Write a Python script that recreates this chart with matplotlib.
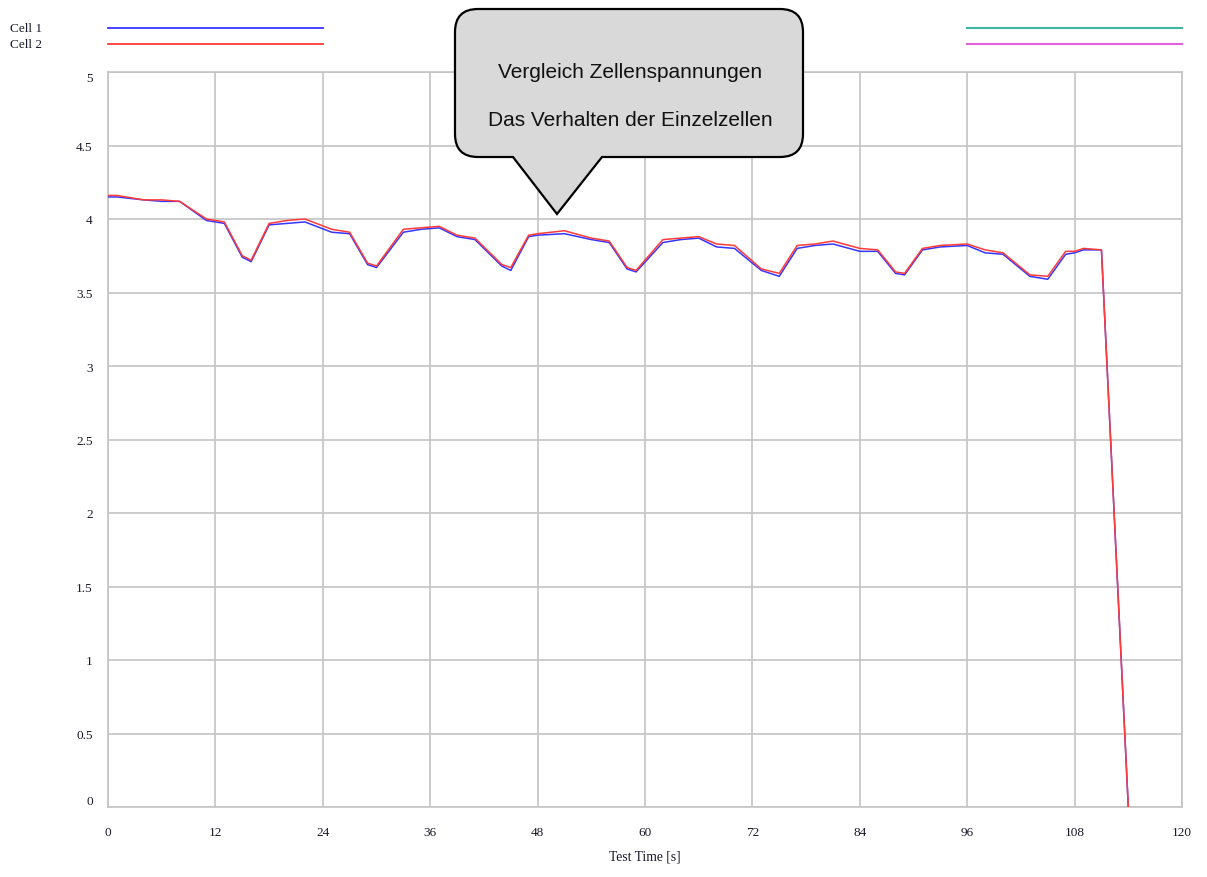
import numpy as np
import matplotlib.pyplot as plt
from matplotlib.path import Path
from matplotlib.patches import PathPatch
from matplotlib.lines import Line2D
from matplotlib.transforms import Affine2D

# data
time_s = [0, 1, 4, 6, 8, 11, 13, 15, 16, 18, 20, 22, 25, 27, 29, 30, 33, 35, 37, 39,
          41, 44, 45, 47, 48, 51, 54, 56, 58, 59, 62, 64, 66, 68, 70, 73, 75, 77, 79, 81,
          84, 86, 88, 89, 91, 93, 96, 98, 100, 103, 105, 107, 108, 109, 111, 114]
cell2 = [4.16, 4.16, 4.13, 4.13, 4.12, 4.00, 3.98, 3.75, 3.72, 3.97, 3.99, 4.00, 3.93, 3.91,
         3.70, 3.68, 3.93, 3.94, 3.95, 3.89, 3.87, 3.69, 3.67, 3.89, 3.90, 3.92, 3.87, 3.85,
         3.67, 3.65, 3.86, 3.87, 3.88, 3.83, 3.82, 3.66, 3.63, 3.82, 3.83, 3.85, 3.80, 3.79,
         3.64, 3.63, 3.80, 3.82, 3.83, 3.79, 3.77, 3.62, 3.61, 3.78, 3.78, 3.80, 3.79, 0.0]
cell1 = [4.15, 4.15, 4.13, 4.12, 4.12, 3.99, 3.97, 3.74, 3.71, 3.96, 3.97, 3.98, 3.91, 3.90,
         3.69, 3.67, 3.91, 3.93, 3.94, 3.88, 3.86, 3.68, 3.65, 3.88, 3.89, 3.90, 3.86, 3.84,
         3.66, 3.64, 3.84, 3.86, 3.87, 3.81, 3.80, 3.65, 3.61, 3.80, 3.82, 3.83, 3.78, 3.78,
         3.63, 3.62, 3.79, 3.81, 3.82, 3.77, 3.76, 3.61, 3.59, 3.76, 3.77, 3.79, 3.79, 0.0]
x_ticks = [0, 12, 24, 36, 48, 60, 72, 84, 96, 108, 120]
y_ticks = [0, 0.5, 1, 1.5, 2, 2.5, 3, 3.5, 4, 4.5, 5]
y_tick_labels = ['0', '0.5', '1', '1.5', '2', '2.5', '3', '3.5', '4', '4.5', '5']

W, H = 1207, 878
serif = 'Liberation Serif'
sans = 'Liberation Sans'
blue, red = '#3535ff', '#ff3a3a'
teal, magenta = '#3db89e', '#e060e0'
txt = '#1a1a2a'

fig = plt.figure(figsize=(W / 100, H / 100), dpi=100)
ax = fig.add_axes([108 / W, 70 / H, 1074 / W, 735 / H])

ax.plot(time_s, cell1, color=blue, lw=1.1, zorder=3)
ax.plot(time_s, cell2, color=red, lw=1.1, zorder=4)

ax.set_xlim(0, 120)
ax.set_ylim(0, 5)
ax.set_xticks(x_ticks)
ax.set_yticks(y_ticks)
ax.set_yticklabels(y_tick_labels)
ax.grid(True, color='#c4c4c4', lw=1.2)
ax.set_axisbelow(True)
for s in ax.spines.values():
    s.set_color('#c4c4c4')
    s.set_linewidth(1.2)
ax.tick_params(length=0, labelsize=9.5, labelfontfamily=serif, colors=txt)
ax.tick_params(axis='x', pad=14)
ax.tick_params(axis='y', pad=11)
ylabs = ax.get_yticklabels()
ylabs[0].set_va('bottom')
ylabs[-1].set_va('top')
ax.set_xlabel('Test Time [s]', fontsize=9.8, family=serif, labelpad=8, color=txt)

# legend rows at the top
px = Affine2D().scale(1 / 100, -1 / 100).translate(0, H / 100) + fig.dpi_scale_trans
for yy, lab, col in [(29, 'Cell 1', blue), (45, 'Cell 2', red)]:
    fig.text(10 / W, 1 - yy / H, lab, fontsize=9.5, family=serif, va='center', color=txt)
    fig.add_artist(Line2D([108, 323], [yy, yy], color=col, lw=1.3, transform=px))
for yy, col in [(29, teal), (45, magenta)]:
    fig.add_artist(Line2D([967, 1182], [yy, yy], color=col, lw=1.5, transform=px))

# speech bubble callout
r = 23
L, R, T, B = 455, 803, 10, 158
verts = [(L + r, T), (R - r, T), (R, T), (R, T + r), (R, B - r), (R, B), (R - r, B),
         (602, B), (557, 215), (513, B), (L + r, B), (L, B), (L, B - r), (L, T + r),
         (L, T), (L + r, T), (L + r, T)]
codes = [Path.MOVETO, Path.LINETO, Path.CURVE3, Path.CURVE3, Path.LINETO, Path.CURVE3,
         Path.CURVE3, Path.LINETO, Path.LINETO, Path.LINETO, Path.LINETO, Path.CURVE3,
         Path.CURVE3, Path.LINETO, Path.CURVE3, Path.CURVE3, Path.CLOSEPOLY]
bubble = PathPatch(Path(verts, codes), facecolor='#d9d9d9', edgecolor='black', lw=1.6,
                   transform=px, zorder=10)
fig.add_artist(bubble)
fig.text(630 / W, 1 - 72 / H, 'Vergleich Zellenspannungen', fontsize=15, family=sans,
         ha='center', va='center', zorder=11, color='#111111')
fig.text(630 / W, 1 - 120 / H, 'Das Verhalten der Einzelzellen', fontsize=15, family=sans,
         ha='center', va='center', zorder=11, color='#111111')

fig.savefig('out.png', dpi=100)
